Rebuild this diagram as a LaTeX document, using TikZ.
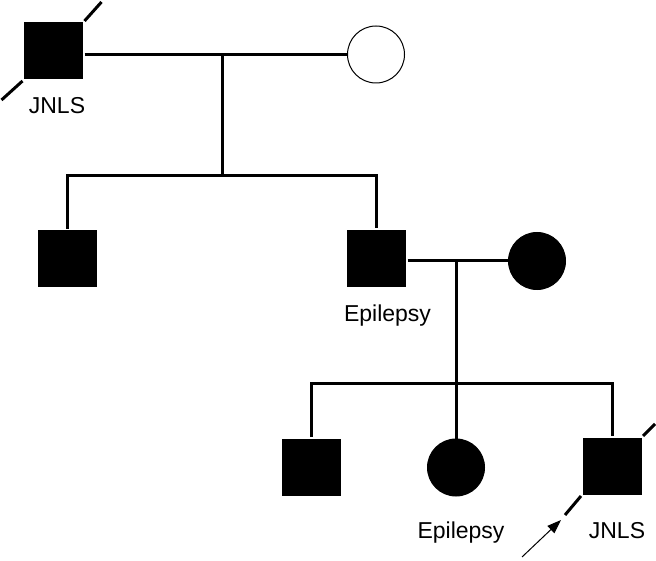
\documentclass[tikz,border=0pt]{standalone}
\usepackage{fontspec}
\setmainfont{Liberation Sans}
\usetikzlibrary{arrows.meta}
\begin{document}
\begin{tikzpicture}[x=1pt,y=-1pt,
  line width=3pt,
  male/.style={draw=none,fill=black,minimum width=59pt,minimum height=57pt,inner sep=0pt,rectangle},
  femaleA/.style={draw=black,fill=black,line width=1pt,circle,minimum size=57pt,inner sep=0pt},
  femaleU/.style={draw=black,fill=white,line width=1pt,circle,minimum size=57pt,inner sep=0pt},
  lbl/.style={font=\fontsize{23}{27}\selectfont,anchor=base,inner sep=0pt},
  conn/.style={line width=3pt,line join=miter},
  dead/.style={line width=3pt},
  proband/.style={line width=1pt,-{Triangle[length=14pt,width=10pt]}}]
\useasboundingbox (0,0) rectangle (656,561);
% generation I
\node[male] (sqA) at (53.5,51) {};
\node[femaleU] (cA) at (376,54.5) {};
\coordinate (m1) at (222,54.5);
\coordinate (s1) at (222,176);
% generation II
\node[male] (sqB) at (67.5,259) {};
\node[male] (sqC) at (376.5,258.5) {};
\node[femaleA] (cB) at (537,261) {};
\coordinate (m2) at (456,261);
\coordinate (s2) at (456,383);
% generation III
\node[male] (sqD) at (311,467) {};
\node[femaleA] (cC) at (456,467.5) {};
\node[male] (sqE) at (612,466) {};
% labels
\node[lbl] (l1) at (57,114) {JNLS};
\node[lbl] (l2) at (387.5,322) {Epilepsy};
\node[lbl] (l3) at (461,538) {Epilepsy};
\node[lbl] (l4) at (617,538) {JNLS};
% connectors
\draw[conn] (sqA.east |- m1) -- (cA.west);
\draw[conn] (m1) -- (s1);
\draw[conn] (sqB.north) -- (sqB.north |- s1) -- (sqC.north |- s1) -- (sqC.north);
\draw[conn] (sqC.east |- m2) -- (cB.west);
\draw[conn] (m2) -- (s2);
\draw[conn] (sqD.north) -- (sqD.north |- s2) -- (sqE.north |- s2) -- (sqE.north);
\draw[conn] (s2) -- (cC.north);
% deceased slashes
\draw[dead] (sqA.south west) -- ++(-21,19);
\draw[dead] (sqA.north east) -- ++(17,-19);
\draw[dead] (sqE.south west) -- ++(-16,19);
\draw[dead] (sqE.north east) -- ++(12,-12);
% proband arrow
\coordinate (pa) at (522,557);
\coordinate (pb) at (561,520);
\draw[proband] (pa) -- (pb);
\end{tikzpicture}
\end{document}
